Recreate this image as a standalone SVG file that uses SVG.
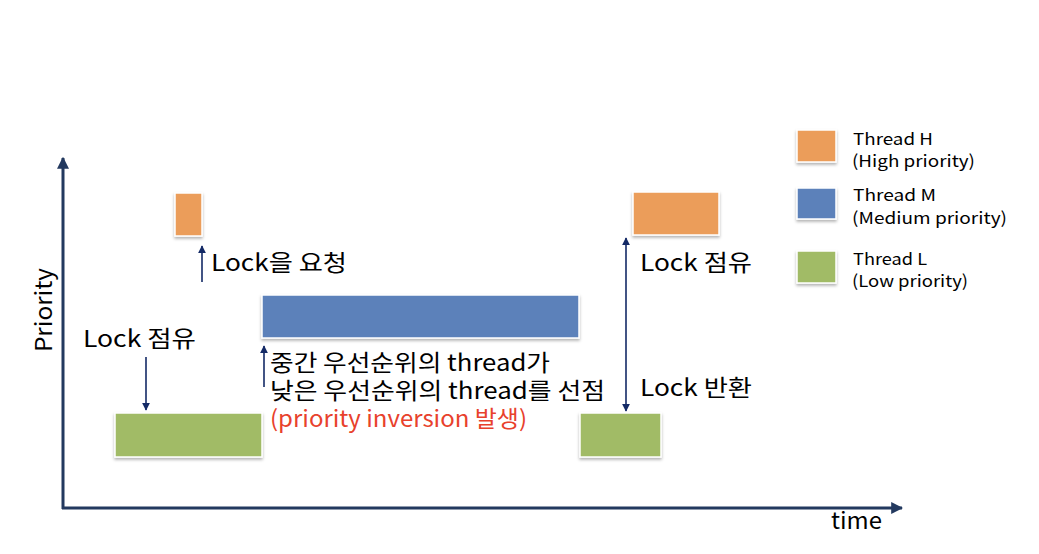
<svg xmlns="http://www.w3.org/2000/svg" width="1039" height="554" viewBox="0 0 1039 554">
<defs>
<style>
.t{font-family:"Noto Sans CJK KR","Noto Sans",sans-serif;fill:#000}
.big{font-size:23px}
.leg{font-size:16.5px}
.red{fill:#E8412C}
.box{stroke:#fff;stroke-width:1.5;filter:url(#sh)}
.h{fill:#EB9D5A}.m{fill:#5B81BA}.l{fill:#A1BB66}
.ax{stroke:#23395F;stroke-width:3;fill:none}
.ar{stroke:#142A66;stroke-width:1.6;fill:none}
</style>
<filter id="sh" x="-20%" y="-20%" width="140%" height="160%">
<feDropShadow dx="0" dy="2" stdDeviation="1.5" flood-color="#000" flood-opacity="0.3"/>
</filter>
<marker id="axh" viewBox="0 0 10 10" refX="9" refY="5" markerWidth="4" markerHeight="4" orient="auto-start-reverse" markerUnits="strokeWidth"><path d="M0,0 L10,5 L0,10 z" fill="#23395F"/></marker>
<marker id="arh" viewBox="0 0 10 10" refX="9" refY="5" markerWidth="5" markerHeight="5" orient="auto-start-reverse" markerUnits="strokeWidth"><path d="M0,0 L10,5 L0,10 z" fill="#142A66"/></marker>
</defs>
<g id="axes">
<path class="ax" d="M63,509 L63,158" marker-end="url(#axh)"/>
<path class="ax" d="M62,508 L902,508" marker-end="url(#axh)"/>
<text class="t big" transform="translate(52,310) rotate(-90)" text-anchor="middle" textLength="84" lengthAdjust="spacingAndGlyphs">Priority</text>
<text class="t big" x="831" y="529" textLength="51" lengthAdjust="spacingAndGlyphs">time</text>
</g>
<g id="connectors">
<path class="ar" d="M202,282 L202,246" marker-end="url(#arh)"/>
<path class="ar" d="M146,357 L146,410" marker-end="url(#arh)"/>
<path class="ar" d="M264,387 L264,346" marker-end="url(#arh)"/>
<path class="ar" d="M626,238 L626,411" marker-start="url(#arh)" marker-end="url(#arh)"/>
</g>
<g id="h1"><rect class="box h" x="175" y="193" width="27" height="43"/></g>
<g id="l1"><rect class="box l" x="115" y="413" width="147" height="44"/></g>
<g id="m1"><rect class="box m" x="262" y="295" width="317" height="43"/></g>
<g id="h2"><rect class="box h" x="633" y="192" width="86" height="43"/></g>
<g id="l2"><rect class="box l" x="580" y="413" width="81" height="44"/></g>
<g id="labels">
<text class="t big" x="211" y="271" textLength="136" lengthAdjust="spacingAndGlyphs">Lock을 요청</text>
<text class="t big" x="83" y="347" textLength="113" lengthAdjust="spacingAndGlyphs">Lock 점유</text>
<text class="t big" x="270" y="371" textLength="280" lengthAdjust="spacingAndGlyphs">중간 우선순위의 thread가</text>
<text class="t big" x="270" y="399" textLength="335" lengthAdjust="spacingAndGlyphs">낮은 우선순위의 thread를 선점</text>
<text class="t big red" x="270" y="427" textLength="257" lengthAdjust="spacingAndGlyphs">(priority inversion 발생)</text>
<text class="t big" x="640" y="271" textLength="112" lengthAdjust="spacingAndGlyphs">Lock 점유</text>
<text class="t big" x="640" y="396" textLength="112" lengthAdjust="spacingAndGlyphs">Lock 반환</text>
</g>
<g id="legend">
<rect class="box h" x="797" y="130" width="39" height="32"/>
<rect class="box m" x="797" y="188" width="39" height="31"/>
<rect class="box l" x="797" y="251" width="39" height="32"/>
<text class="t leg" x="853" y="145" textLength="80" lengthAdjust="spacingAndGlyphs">Thread H</text>
<text class="t leg" x="852" y="167" textLength="123" lengthAdjust="spacingAndGlyphs">(High priority)</text>
<text class="t leg" x="853" y="201" textLength="83" lengthAdjust="spacingAndGlyphs">Thread M</text>
<text class="t leg" x="852" y="224" textLength="155" lengthAdjust="spacingAndGlyphs">(Medium priority)</text>
<text class="t leg" x="853" y="265" textLength="74" lengthAdjust="spacingAndGlyphs">Thread L</text>
<text class="t leg" x="852" y="287" textLength="116" lengthAdjust="spacingAndGlyphs">(Low priority)</text>
</g>
</svg>
